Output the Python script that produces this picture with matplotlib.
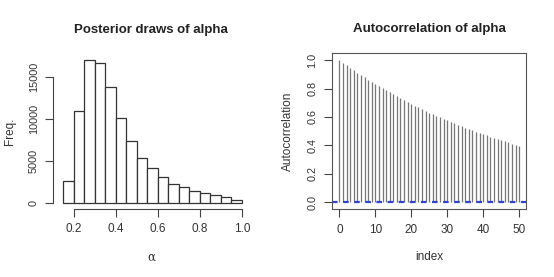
import numpy as np
import matplotlib.pyplot as plt
import matplotlib as mpl

mpl.rcParams.update({"font.family": ["Liberation Sans", "DejaVu Sans"], "font.size": 8.5,
                     "axes.linewidth": 0.8, "xtick.major.width": 0.8, "ytick.major.width": 0.8,
                     "xtick.color": "#444444", "ytick.color": "#444444",
                     "xtick.labelcolor": "#333333", "ytick.labelcolor": "#333333"})

# histogram of posterior draws (bin edges and counts)
bin_edges = [0.15, 0.20, 0.25, 0.30, 0.35, 0.40, 0.45, 0.50, 0.55, 0.60,
             0.65, 0.70, 0.75, 0.80, 0.85, 0.90, 0.95, 1.00]
counts = [2610, 10900, 16960, 16640, 13720, 10120, 7390, 5380, 4190,
          3120, 2250, 1860, 1380, 1150, 950, 710, 320]

# autocorrelation by lag (estimated from the stem tops)
lags = list(range(51))
acf = [1.000, 0.982, 0.964, 0.946, 0.929, 0.912, 0.895, 0.879, 0.863, 0.847,
       0.832, 0.817, 0.802, 0.787, 0.773, 0.759, 0.745, 0.731, 0.718, 0.705,
       0.692, 0.679, 0.667, 0.655, 0.643, 0.631, 0.619, 0.608, 0.597, 0.586,
       0.575, 0.565, 0.555, 0.545, 0.535, 0.525, 0.515, 0.506, 0.497, 0.488,
       0.479, 0.470, 0.461, 0.453, 0.445, 0.437, 0.429, 0.421, 0.413, 0.406,
       0.398]

W, H = 554, 277
fig = plt.figure(figsize=(W / 100, H / 100), dpi=100)


def px_axes(x0, y0, x1, y1):
    # pixel box (top-left origin) -> figure fraction
    return fig.add_axes([x0 / W, 1 - y1 / H, (x1 - x0) / W, (y1 - y0) / H])


# ---------- left: histogram ----------
a1 = px_axes(53.3, 54.0, 249.0, 208.5)
widths = np.diff(bin_edges)
a1.bar(bin_edges[:-1], counts, width=widths, align="edge", color="white",
       edgecolor="#333333", linewidth=0.9)
a1.set_xlim(0.103, 1.034)
a1.set_ylim(-680, 17680)
for s in ("top", "right"):
    a1.spines[s].set_visible(False)
a1.spines["left"].set_bounds(0, 15000)
a1.spines["bottom"].set_bounds(0.2, 1.0)
for s in ("left", "bottom"):
    a1.spines[s].set_color("#444444")
a1.set_xticks([0.2, 0.4, 0.6, 0.8, 1.0])
a1.set_xticklabels(["0.2", "0.4", "0.6", "0.8", "1.0"])
a1.set_yticks([0, 5000, 10000, 15000])
a1.set_yticklabels(["0", "5000", "10000", "15000"], rotation=90, va="center", fontsize=7.8)
a1.tick_params(length=5.5, pad=5)
a1.set_title("Posterior draws of alpha", fontsize=9.5, fontweight="bold", color="#222222", pad=15)
a1.set_ylabel("Freq.", color="#333333", labelpad=9.5)
a1.set_xlabel("α", family="DejaVu Serif", color="#333333", labelpad=11)

# ---------- right: autocorrelation ----------
a2 = px_axes(332.0, 53.3, 526.3, 209.0)
a2.vlines(lags, 0, acf, color="#777777", linewidth=0.9)
a2.axhline(0, color="#3344cc", linewidth=1.6, linestyle=(0, (2.5, 2.5)))
a2.set_xlim(-2.05, 52.0)
a2.set_ylim(-0.048, 1.048)
for s in a2.spines.values():
    s.set_color("#555555")
a2.set_xticks([0, 10, 20, 30, 40, 50])
a2.set_yticks([0.0, 0.2, 0.4, 0.6, 0.8, 1.0])
a2.set_yticklabels(["0.0", "0.2", "0.4", "0.6", "0.8", "1.0"], rotation=90, va="center", fontsize=7.8)
a2.tick_params(length=5.5, pad=5)
a2.set_title("Autocorrelation of alpha", fontsize=9.5, fontweight="bold", color="#222222", pad=15)
a2.set_ylabel("Autocorrelation", color="#333333", labelpad=10)
a2.set_xlabel("index", color="#333333", labelpad=11)

fig.savefig("out.png", dpi=100)
